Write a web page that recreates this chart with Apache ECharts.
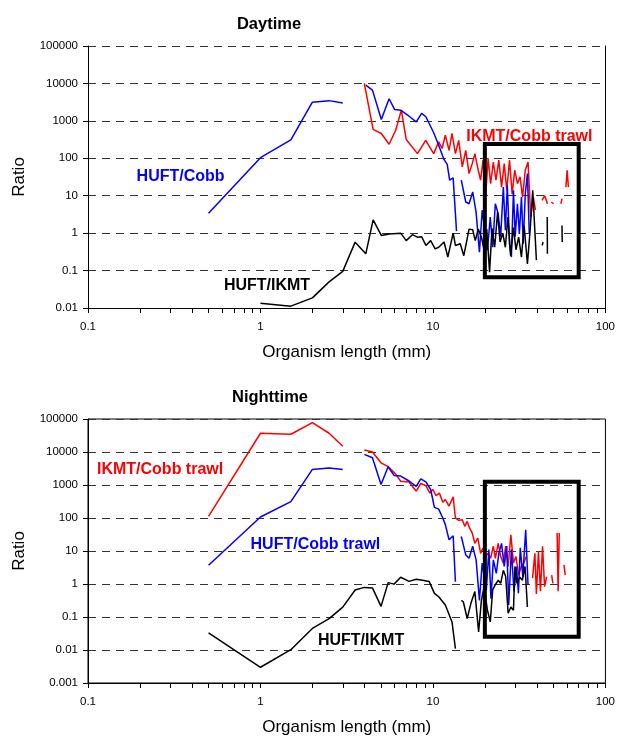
<!DOCTYPE html>
<html>
<head>
<meta charset="utf-8">
<script src="https://cdn.jsdelivr.net/npm/echarts@6/dist/echarts.min.js"></script>
<style>
html, body { margin: 0; padding: 0; background: #fff; }
#main { width: 618px; height: 738px; }
</style>
</head>
<body>
<div id="main"></div>
<script>
// ratio vs organism length, pairs of [length mm, ratio]; null = gap in the line
var dayBlue = [
  [0.5,3.4],[1,104],[1.5,310],[2,3160],[2.5,3470],[3,3000],[3.5,null],
  [4.08,9020],[4.46,6630],[5.02,1090],[5.57,3890],[6.0,2000],[6.5,1930],[7.27,1330],[8.0,940],
  [8.6,1580],[9.1,1290],[10.1,480],[10.8,224],[11.6,92],[12.1,69],[12.5,26],[13.1,30],[13.7,1.13],[14.2,null],
  [14.6,26],[15.5,6.8],[16.2,6.1],[17.0,12.6],[17.8,3.6],[18.6,0.31],[19.3,4.1],[20,1.2],[20.7,0.35],
  [21.5,2.7],[22.2,0.42],[23.0,6.1],[23.9,3.3],[24.7,0.8],[25.6,17],[26.3,1.2],[27.0,19],[27.8,0.52],
  [28.5,0.23],[29.3,14],[30.0,0.8],[30.9,6.1],[31.7,0.95],[32.6,9.2],[33.4,0.52],[34.3,11],[35.3,39],[36.2,0.95]
];
var dayRed = [
  [4.0,10000],[4.5,590],[5.02,460],[5.57,237],[6.08,560],[6.56,1930],[7.0,316],[8.13,133],[9.08,300],
  [10.1,133],[10.8,274],[11.3,183],[11.8,414],[12.4,163],[12.9,460],[13.5,133],[14.1,300],[14.8,59],
  [15.5,163],[16.2,39],[16.9,72],[17.5,133],[18.3,48],[18.9,26],[19.5,89],[20.2,9.2],[20.9,100],[21.6,21],
  [22.4,79],[23.2,26],[24.1,89],[25.0,17],[25.9,72],[26.8,14],[27.8,89],[28.8,11],[29.8,48],[30.9,21],
  [32.0,32],[33.1,9.2],[34.3,48],[35.6,79],[36.9,2.7],[38.2,9.2],[39.3,4.1],[41,null],
  [42.9,7.5],[44.5,10],[46.1,6.1],[47,null],[48.6,6.8],[50.1,6.1],[52,null],
  [55.2,6.1],[56,8.4],[57,null],[59,17],[60,48],[61,17]
];
var dayBlack = [
  [1,0.0133],[1.5,0.0112],[2,0.0186],[2.5,0.05],[3,0.095],[3.54,0.575],[4.08,0.28],[4.5,2.27],[5.02,0.87],
  [5.57,0.95],[6.5,1.0],[7.0,0.63],[7.6,0.91],[8.13,0.78],[8.6,0.8],[9.1,0.47],[9.7,0.63],[10.3,0.38],
  [10.8,0.42],[11.6,0.58],[12.2,0.23],[13.1,1.0],[13.5,0.47],[14.4,0.52],[15.1,0.25],[16.2,1.28],[17.0,1.24],
  [17.6,0.63],[18.3,1.29],[19.1,0.78],[19.8,0.36],[20.5,1.29],[21.3,0.091],[22.0,1.35],[22.8,0.42],[23.7,3.6],
  [24.5,0.58],[25.4,1.0],[26.3,0.42],[27.2,2.7],[28.2,0.25],[29.3,1.4],[30.3,0.36],[31.4,0.78],[32.6,0.23],
  [33.8,1.6],[35.3,0.15],[36.6,1.2],[37.9,14],[39.8,0.19],[41,null],
  [43,0.47],[43.5,0.58],[45,null],[46,2.7],[46.1,0.28],[50,null],[56,1.6],[56.2,0.58],[58,null],[61.5,0.56],[61.7,0.55]
];

var nightBlue = [
  [0.5,3.7],[1,107],[1.5,314],[2,2970],[2.5,3300],[3,2970],[3.5,null],
  [4.0,8500],[4.46,6700],[5.0,1035],[5.5,3560],[5.95,1950],[6.5,1860],[7.27,1320],[8.0,910],[8.5,1540],
  [9.1,1240],[9.7,730],[10.2,210],[10.8,186],[11.4,100],[11.8,63],[12.4,22],[13.1,29],[13.5,1.17],[14.1,null],
  [14.6,27.5],[15.5,7.6],[16.2,6.0],[17.0,14],[17.8,5.4],[18.6,0.32],[19.3,4.3],[19.8,4.8],[20.4,0.66],
  [21.1,11],[21.7,0.36],[22.4,5.4],[23.3,2.1],[24.1,8.5],[25.0,17],[25.9,3.4],[26.8,14],[27.5,0.23],
  [28.5,11],[29.5,0.59],[30.5,3.4],[31.3,0.53],[32.1,12.5],[33.2,1.66],[34.5,44],[35.6,0.93]
];
var nightRed = [
  [0.5,112],[1,37000],[1.5,34500],[2,78000],[2.5,37000],[3,15000],[3.5,null],
  [4.0,11500],[4.46,10000],[5.0,4700],[5.5,3600],[6.1,2100],[6.5,1300],[7.27,1240],[8.0,650],[8.5,1110],
  [9.1,960],[9.6,570],[10.0,730],[10.4,480],[10.9,570],[11.4,300],[11.8,360],[12.4,230],[13.1,440],[13.5,100],
  [14.1,85],[14.8,89],[15.3,56],[15.8,79],[16.3,50],[16.9,35],[17.5,17],[18.2,24.5],[18.9,8.5],[19.5,12.2],
  [20.2,6.8],[20.9,8.5],[21.6,6.0],[22.4,14],[23.0,6],[23.9,17],[24.7,6.8],[25.6,4.3],[26.4,14],[27.3,3.4],
  [28.3,31],[29.3,4.3],[30.3,6.8],[31.4,1.86],[32.5,3.4],[33.6,4.3],[34.8,6.8],[36,null],
  [37.8,1.5],[39.0,8.5],[39.8,0.5],[40.9,9.6],[42.0,0.6],[43.2,14],[44.4,0.83],[45.6,1.66],[47,null],
  [48.8,1.86],[49.6,1.05],[51,null],[52.5,35],[53.2,0.6],[54,35],[55,null],[57.5,3.8],[58.5,1.86]
];
var nightBlack = [
  [0.5,0.033],[1,0.003],[1.5,0.0102],[2,0.045],[2.5,0.089],[3,0.2],[3.54,0.66],[4.0,0.79],[4.46,0.76],
  [5.0,0.21],[5.5,1.1],[5.95,0.99],[6.5,1.6],[7.27,1.2],[8.0,1.4],[8.7,1.3],[9.5,1.2],[10.2,0.52],[10.8,0.41],
  [11.8,0.23],[12.9,0.071],[13.5,0.011],[14.1,null],
  [14.6,0.32],[15.0,0.29],[15.8,0.09],[16.6,0.26],[17.5,0.59],[18.4,0.035],[19.1,0.32],[19.8,0.82],[20.7,0.16],
  [21.5,0.071],[22.2,0.66],[23.0,0.95],[23.9,1.3],[24.7,1.05],[25.6,2.6],[26.4,1.7],[27.3,0.13],[28.3,0.2],
  [29.3,0.16],[29.9,3.4],[30.7,1.05],[31.9,1.6],[33.0,1.3],[34.2,3.4],[35.3,0.2]
];

// in-plot series labels: text, anchor length, anchor ratio
var dayTagText = ['HUFT/Cobb', 'HUFT/IKMT', 'IKMT/Cobb trawl'];
var dayTagX = [0.19, 0.61, 15.5];
var dayTagY = [32, 0.039, 380];
var nightTagText = ['IKMT/Cobb trawl', 'HUFT/Cobb trawl', 'HUFT/IKMT'];
var nightTagX = [0.112, 0.87, 2.14];
var nightTagY = [2950, 15.5, 0.019];

// boxed region [x0, y0, x1, y1]
var dayBox = [20, 0.066, 70, 240];
var nightBox = [20, 0.025, 70, 1250];

var xLabels = [0.1, 1, 10, 100];
var xTicks = [];
for (var d = 0.1; d < 100; d *= 10) {
  for (var k = 1; k < 10; k++) xTicks.push(+(d * k).toPrecision(3));
}
xTicks.push(100);

var FONT = '"Liberation Sans", Arial, sans-serif';
var BLUE = '#0000ff', RED = '#ff0000', BLACK = '#000000';

function fmt(v) { return String(parseFloat(Number(v).toPrecision(6))); }
function toLine(pairs) {
  return pairs.map(function (p) { return p[1] === null ? [p[0], '-'] : p; });
}

function makeX(gi) {
  return {
    type: 'log', logBase: 10, gridIndex: gi, min: 0.1, max: 100,
    name: 'Organism length (mm)', nameLocation: 'middle', nameGap: 36,
    nameTextStyle: { fontSize: 17, color: '#000', fontFamily: FONT },
    axisLine: { onZero: false, lineStyle: { color: '#000', width: 1 } },
    axisTick: { show: true, length: 5, customValues: xTicks, lineStyle: { color: '#000' } },
    axisLabel: { customValues: xLabels, margin: 13, fontSize: 11.5, color: '#000', fontFamily: FONT, formatter: fmt },
    splitLine: { show: false }
  };
}
function makeY(gi, lo, hi) {
  return {
    type: 'log', logBase: 10, gridIndex: gi, min: lo, max: hi,
    name: 'Ratio', nameLocation: 'middle', nameGap: 60,
    nameTextStyle: { fontSize: 17, color: '#000', fontFamily: FONT },
    axisLine: { show: true, onZero: false, lineStyle: { color: '#000', width: 1 } },
    axisTick: { show: true, length: 5, lineStyle: { color: '#000' } },
    axisLabel: { margin: 10, fontSize: 11.5, color: '#000', fontFamily: FONT, formatter: fmt },
    splitLine: { show: true, lineStyle: { color: '#333', width: 1, type: [8, 6] } }
  };
}
function lineSeries(data, color, ai) {
  return {
    type: 'line', xAxisIndex: ai, yAxisIndex: ai, data: toLine(data),
    showSymbol: false, symbol: 'none', connectNulls: false,
    lineStyle: { color: color, width: 1.5 }, itemStyle: { color: color }, z: 3
  };
}
function tagSeries(texts, xs, ys, colors, box, ai) {
  return {
    type: 'scatter', xAxisIndex: ai, yAxisIndex: ai, symbolSize: 1, z: 6, silent: true,
    itemStyle: { color: 'rgba(0,0,0,0)' },
    data: texts.map(function (t, i) {
      return {
        value: [xs[i], ys[i]],
        label: {
          show: true, position: 'right', distance: 0, formatter: t, opacity: 1,
          textBorderWidth: 0, color: colors[i], fontSize: 16, fontWeight: 'bold', fontFamily: FONT
        }
      };
    }),
    markArea: {
      silent: true, z: 10,
      itemStyle: { color: 'rgba(0,0,0,0)', borderColor: '#000', borderWidth: 4 },
      data: [[{ coord: [box[0], box[1]] }, { coord: [box[2], box[3]] }]]
    }
  };
}

var chart = echarts.init(document.getElementById('main'), null, { renderer: 'canvas' });

var option = {
  animation: false,
  backgroundColor: '#fff',
  title: [
    { text: 'Daytime', left: 264, top: 11, textAlign: 'center',
      textStyle: { fontSize: 16.5, fontWeight: 'bold', color: '#000', fontFamily: FONT } },
    { text: 'Nighttime', left: 265, top: 384, textAlign: 'center',
      textStyle: { fontSize: 16.5, fontWeight: 'bold', color: '#000', fontFamily: FONT } }
  ],
  grid: [
    { left: 88, top: 46, width: 519, height: 262 },
    { left: 88, top: 419, width: 519, height: 264, show: true, borderColor: '#000', borderWidth: 1 }
  ],
  xAxis: [makeX(0), makeX(1)],
  yAxis: [
    makeY(0, 0.01, 100000),
    makeY(1, 0.001, 100000),
    { type: 'log', gridIndex: 0, min: 0.01, max: 100000, position: 'right',
      axisLine: { show: true, lineStyle: { color: '#000' } },
      axisTick: { show: false }, axisLabel: { show: false }, splitLine: { show: false } }
  ],
  series: [
    lineSeries(dayRed, RED, 0),
    lineSeries(dayBlue, BLUE, 0),
    lineSeries(dayBlack, BLACK, 0),
    tagSeries(dayTagText, dayTagX, dayTagY, [BLUE, BLACK, RED], dayBox, 0),
    lineSeries(nightRed, RED, 1),
    lineSeries(nightBlue, BLUE, 1),
    lineSeries(nightBlack, BLACK, 1),
    tagSeries(nightTagText, nightTagX, nightTagY, [RED, BLUE, BLACK], nightBox, 1)
  ]
};
chart.setOption(option);
</script>
</body>
</html>
